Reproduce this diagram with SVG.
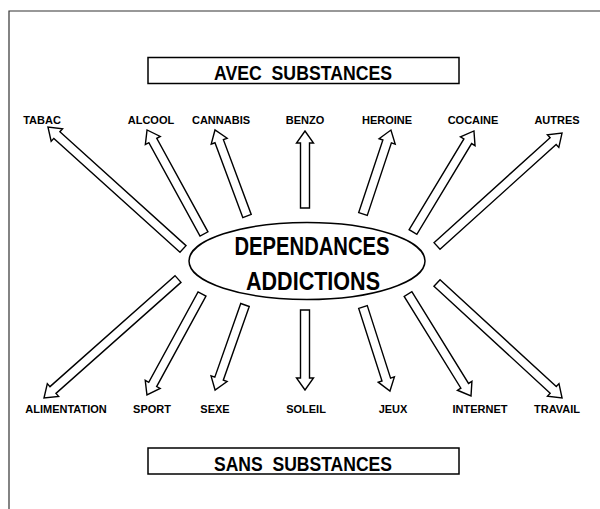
<svg xmlns="http://www.w3.org/2000/svg" width="600" height="509" viewBox="0 0 600 509">
<style>
.frame{fill:none;stroke:#333;stroke-width:1.2}
.box{fill:#fff;stroke:#000;stroke-width:1.5}
.arr{fill:#fff;stroke:#000;stroke-width:1.4;stroke-linejoin:miter}
.lbl{font-family:"Liberation Sans",Arial,sans-serif;font-weight:bold;font-size:11px;fill:#000;text-anchor:middle}
.hd{font-family:"Liberation Sans",Arial,sans-serif;font-weight:bold;font-size:21px;fill:#000;text-anchor:middle}
.ct{font-family:"Liberation Sans",Arial,sans-serif;font-weight:bold;font-size:25px;fill:#000;text-anchor:middle}
</style>
<rect width="600" height="509" fill="#fff"/>
<path class="frame" d="M9,509 V11 H601"/>
<g id="avec">
<rect class="box" x="148" y="57.5" width="311" height="26"/>
<text class="hd" x="303" y="80" xml:space="preserve" textLength="178" lengthAdjust="spacingAndGlyphs">AVEC  SUBSTANCES</text>
</g>
<g id="sans">
<rect class="box" x="148" y="448" width="311" height="26"/>
<text class="hd" x="303" y="471" xml:space="preserve" textLength="178" lengthAdjust="spacingAndGlyphs">SANS  SUBSTANCES</text>
</g>
<g id="center">
<ellipse class="box" cx="307" cy="261" rx="118" ry="38.5"/>
<text class="ct" x="312" y="255" textLength="155" lengthAdjust="spacingAndGlyphs">DEPENDANCES</text>
<text class="ct" x="313" y="290" textLength="134" lengthAdjust="spacingAndGlyphs">ADDICTIONS</text>
</g>
<g id="connectors">
<path class="arr" transform="translate(183,249) rotate(-137.9)" d="M0,-4.5 H170 V-8.5 L182,0 L170,8.5 V4.5 H0 Z"/>
<path class="arr" transform="translate(204,234) rotate(-118.7)" d="M0,-4.5 H106.6 V-8.5 L118.6,0 L106.6,8.5 V4.5 H0 Z"/>
<path class="arr" transform="translate(247,216) rotate(-110.4)" d="M0,-4.5 H79.8 V-8.5 L91.8,0 L79.8,8.5 V4.5 H0 Z"/>
<path class="arr" transform="translate(305,208) rotate(-90)" d="M0,-4.5 H65 V-8.5 L77,0 L65,8.5 V4.5 H0 Z"/>
<path class="arr" transform="translate(363,214) rotate(-71.6)" d="M0,-4.5 H76.5 V-8.5 L88.5,0 L76.5,8.5 V4.5 H0 Z"/>
<path class="arr" transform="translate(413,232) rotate(-58.9)" d="M0,-4.5 H106 V-8.5 L118,0 L106,8.5 V4.5 H0 Z"/>
<path class="arr" transform="translate(437,246) rotate(-42.1)" d="M0,-4.5 H156.5 V-8.5 L168.5,0 L156.5,8.5 V4.5 H0 Z"/>
<path class="arr" transform="translate(178,279) rotate(138.4)" d="M0,-4.5 H167.2 V-8.5 L179.2,0 L167.2,8.5 V4.5 H0 Z"/>
<path class="arr" transform="translate(202,294) rotate(118.6)" d="M0,-4.5 H103 V-8.5 L115,0 L103,8.5 V4.5 H0 Z"/>
<path class="arr" transform="translate(245,305) rotate(109.4)" d="M0,-4.5 H78.1 V-8.5 L90.1,0 L78.1,8.5 V4.5 H0 Z"/>
<path class="arr" transform="translate(305,310) rotate(90)" d="M0,-4.5 H68 V-8.5 L80,0 L68,8.5 V4.5 H0 Z"/>
<path class="arr" transform="translate(363,307) rotate(72.2)" d="M0,-4.5 H76.2 V-8.5 L88.2,0 L76.2,8.5 V4.5 H0 Z"/>
<path class="arr" transform="translate(408,294) rotate(58.3)" d="M0,-4.5 H107.9 V-8.5 L119.9,0 L107.9,8.5 V4.5 H0 Z"/>
<path class="arr" transform="translate(437,283) rotate(42.6)" d="M0,-4.5 H157.9 V-8.5 L169.9,0 L157.9,8.5 V4.5 H0 Z"/>
</g>
<g id="tabac"><text class="lbl" x="42" y="124">TABAC</text></g>
<g id="alcool"><text class="lbl" x="151" y="124">ALCOOL</text></g>
<g id="cannabis"><text class="lbl" x="221" y="124">CANNABIS</text></g>
<g id="benzo"><text class="lbl" x="305" y="124">BENZO</text></g>
<g id="heroine"><text class="lbl" x="387" y="124">HEROINE</text></g>
<g id="cocaine"><text class="lbl" x="473" y="124">COCAINE</text></g>
<g id="autres"><text class="lbl" x="557" y="124">AUTRES</text></g>
<g id="alimentation"><text class="lbl" x="66" y="413">ALIMENTATION</text></g>
<g id="sport"><text class="lbl" x="152" y="413">SPORT</text></g>
<g id="sexe"><text class="lbl" x="215" y="413">SEXE</text></g>
<g id="soleil"><text class="lbl" x="306" y="413">SOLEIL</text></g>
<g id="jeux"><text class="lbl" x="393" y="413">JEUX</text></g>
<g id="internet"><text class="lbl" x="480" y="413">INTERNET</text></g>
<g id="travail"><text class="lbl" x="557" y="413">TRAVAIL</text></g>
</svg>
